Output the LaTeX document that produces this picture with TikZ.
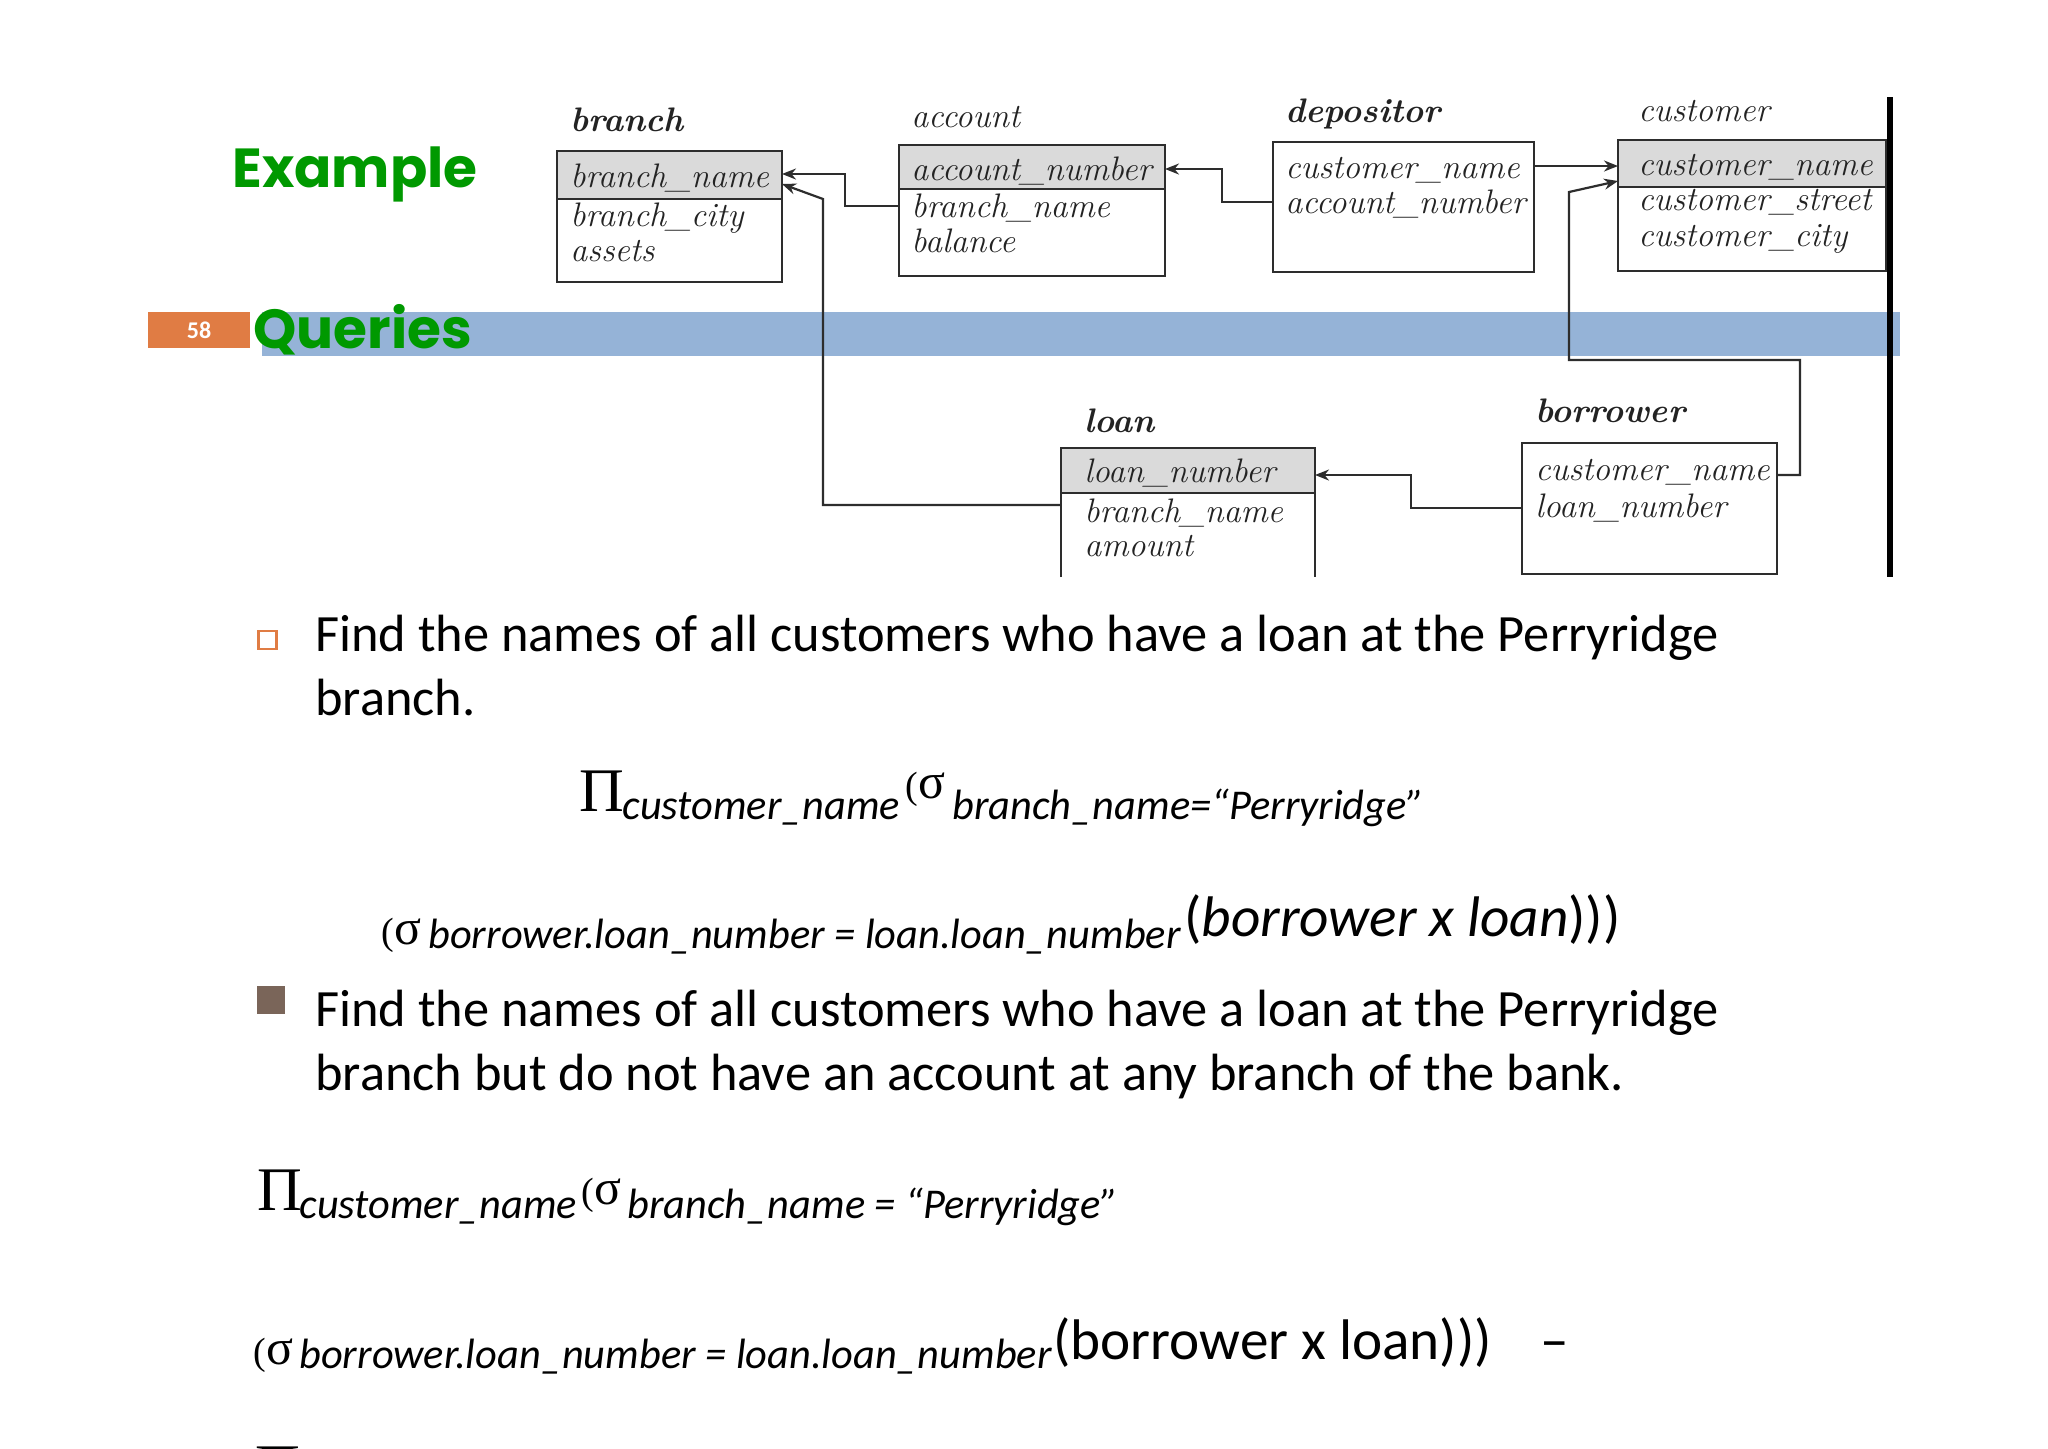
\documentclass[tikz,border=0pt]{standalone}
\usepackage{fontspec}
\usetikzlibrary{arrows.meta,fit}
\newfontfamily\carl{Carlito}
\newfontfamily\popf{Poppins}
\newfontfamily\lser{Liberation Serif}
\definecolor{hgreen}{RGB}{0,153,0}
\definecolor{slorange}{RGB}{224,124,68}
\definecolor{slblue}{RGB}{149,179,215}
\definecolor{bulbrown}{RGB}{122,101,89}
\definecolor{dgline}{RGB}{45,45,45}
\definecolor{dgtext}{RGB}{35,35,35}
\definecolor{hdrgray}{RGB}{218,218,218}
\newcommand{\parsigma}{{\fontsize{19pt}{22pt}\selectfont(}{\fontsize{25pt}{28pt}\selectfont σ}}
\tikzset{
  fitbox/.style={inner sep=0pt, outer sep=0pt},
  boxline/.style={draw=dgline, line width=1.3pt},
  hdr/.style={fill=hdrgray},
  row/.style={anchor=base west, inner sep=0pt, text=dgtext, font=\fontsize{17pt}{20pt}\selectfont\itshape},
  tlabel/.style={anchor=base west, inner sep=0pt, text=dgtext, font=\fontsize{17pt}{20pt}\selectfont\bfseries\itshape},
  tlabelr/.style={anchor=base west, inner sep=0pt, text=dgtext, font=\fontsize{17pt}{20pt}\selectfont\itshape},
  arr/.style={draw=dgline, line width=1.1pt, -{Stealth[length=7pt,width=5.5pt]}},
  heading/.style={anchor=base west, inner sep=0pt, text=hgreen, font=\popf\bfseries\fontsize{27.5pt}{32pt}\selectfont},
  body/.style={anchor=base west, inner sep=0pt, text=black, font=\carl\fontsize{26.2pt}{30pt}\selectfont},
  bigpi/.style={anchor=base west, inner sep=0pt, font=\lser\fontsize{31pt}{36pt}\selectfont},
  parsig/.style={anchor=base west, inner sep=0pt, font=\lser},
  sub/.style={anchor=base west, inner sep=0pt, font=\carl\itshape\fontsize{21.2pt}{25pt}\selectfont},
  big/.style={anchor=base west, inner sep=0pt, font=\carl\fontsize{28.6pt}{33pt}\selectfont},
}
\begin{document}
\begin{tikzpicture}[x=0.5pt,y=-0.5pt]
\useasboundingbox (0,0) rectangle (2048,1448);
\clip (0,0) rectangle (2048,1448);
\fill[white] (0,0) rectangle (2048,1448);

% title band
\fill[slblue] (262,312) rectangle (1900,356);
\node[fill=slorange, inner sep=0pt, fit={(148,312)(250,348)}] (numbox) {};
\node[text=white, font=\carl\bfseries\fontsize{12pt}{14pt}\selectfont, inner sep=0pt] (num) at (numbox.center) {58};
\node[heading] (example) at (232,187) {Example};
\node[heading] (queries) at (253,348) {Queries};

% ---- tables ----
% branch
\node[tlabel] (branchlbl) at (570,131) {branch};
\node[fitbox, fit={(557,151)(782,282)}] (branch) {};
\fill[hdr] (branch.north west) rectangle (branch.east |- 0,199);
\draw[boxline] (branch.west |- 0,199) -- (branch.east |- 0,199);
\draw[boxline] (branch.south west) rectangle (branch.north east);
\node[row] (br1) at (570,187) {branch\_name};
\node[row] (br2) at (570,226) {branch\_city};
\node[row] (br3) at (570,261) {assets};

% account
\node[tlabelr] (acclbl) at (911,127) {account};
\node[fitbox, fit={(899,145)(1165,276)}] (account) {};
\fill[hdr] (account.north west) rectangle (account.east |- 0,189);
\draw[boxline] (account.west |- 0,189) -- (account.east |- 0,189);
\draw[boxline] (account.south west) rectangle (account.north east);
\node[row] (ac1) at (911,180) {account\_number};
\node[row] (ac2) at (911,217) {branch\_name};
\node[row] (ac3) at (911,252) {balance};

% depositor
\node[tlabel] (deplbl) at (1285,122) {depositor};
\node[fitbox, fit={(1273,142)(1534,272)}] (depositor) {};
\draw[boxline] (depositor.south west) rectangle (depositor.north east);
\node[row] (de1) at (1285,178) {customer\_name};
\node[row] (de2) at (1285,213) {account\_number};

% customer
\node[tlabelr] (custlbl) at (1638,121) {customer};
\node[fitbox, fit={(1618,140)(1886,271)}] (customer) {};
\fill[hdr] (customer.north west) rectangle (customer.east |- 0,187);
\draw[boxline] (customer.west |- 0,187) -- (customer.east |- 0,187);
\draw[boxline] (customer.south west) rectangle (customer.north east);
\node[row] (cu1) at (1638,175) {customer\_name};
\node[row] (cu2) at (1638,210) {customer\_street};
\node[row] (cu3) at (1638,246) {customer\_city};

% loan (open at bottom)
\node[tlabel] (loanlbl) at (1084,432) {loan};
\node[fitbox, fit={(1061,448)(1315,577)}] (loan) {};
\fill[hdr] (loan.north west) rectangle (loan.east |- 0,493);
\draw[boxline] (loan.west |- 0,493) -- (loan.east |- 0,493);
\draw[boxline] (loan.south west) |- (loan.north east) -- (loan.south east);
\node[row] (lo1) at (1084,482) {loan\_number};
\node[row] (lo2) at (1084,522) {branch\_name};
\node[row] (lo3) at (1084,556) {amount};

% borrower
\node[tlabel] (borlbl) at (1535,422) {borrower};
\node[fitbox, fit={(1522,443)(1777,574)}] (borrower) {};
\draw[boxline] (borrower.south west) rectangle (borrower.north east);
\node[row] (bo1) at (1535,480) {customer\_name};
\node[row] (bo2) at (1535,517) {loan\_number};

% thick right border
\coordinate (edgetop) at (1890,97);
\coordinate (edgebot) at (1890,577);
\draw[black, line width=2.6pt] (edgetop) -- (edgebot);

% ---- connectors ----
\draw[arr] (account.west |- 0,206) -- (845,206) |- (branch.east |- 0,174);
\draw[arr] (loan.west |- 0,505) -- (823,505) -- (823,199) -- (branch.east |- 0,184);
\draw[arr] (depositor.west |- 0,202) -- (1222,202) |- (account.east |- 0,169);
\draw[arr] (depositor.east |- 0,166) -- (customer.west |- 0,166);
\draw[arr] (borrower.east |- 0,475) -- (1800,475) -- (1800,360) -- (1569,360) -- (1569,192) -- (customer.west |- 0,181);
\draw[arr] (borrower.west |- 0,508) -- (1411,508) |- (loan.east |- 0,475);

% ---- bullets and text ----
\node[draw=slorange, line width=1.3pt, minimum size=9pt, inner sep=0pt] (bul1) at (267.5,640) {};
\node[body] (t1a) at (315,651) {Find the names of all customers who have a loan at the Perryridge};
\node[body] (t1b) at (315,715) {branch.};

\node[fill=bulbrown, minimum size=14pt, inner sep=0pt] (bul2) at (271,1000) {};
\node[body] (t2a) at (315,1026) {Find the names of all customers who have a loan at the Perryridge};
\node[body] (t2b) at (315,1090) {branch but do not have an account at any branch of the bank.};

% formula 1
\node[bigpi] (f1pi) at (579,811) {Π};
\node[sub] (f1s1) at (622,819) {customer\_name};
\node[parsig] (f1ps) at (905,798) {\parsigma};
\node[sub] (f1s2) at (952,819) {branch\_name=“Perryridge”};

% formula 2
\node[parsig] (f2ps) at (381,944) {\parsigma};
\node[sub] (f2s1) at (428,948) {borrower.loan\_number = loan.loan\_number};
\node[big] (f2b) at (1184,936) {(\textit{borrower x loan})))};

% formula 3
\node[bigpi] (f3pi) at (257,1210) {Π};
\node[sub] (f3s1) at (299,1218) {customer\_name};
\node[parsig] (f3ps) at (581,1204) {\parsigma};
\node[sub] (f3s2) at (627,1218) {branch\_name = “Perryridge”};

% formula 4
\node[parsig] (f4ps) at (253,1364) {\parsigma};
\node[sub] (f4s1) at (299,1368) {borrower.loan\_number = loan.loan\_number};
\node[big] (f4b) at (1053,1359) {(borrower x loan)))};
\node[big] (f4m) at (1540,1359) {–};

% cut-off next line
\node[bigpi] (f5pi) at (255,1487) {Π};
\end{tikzpicture}
\end{document}
